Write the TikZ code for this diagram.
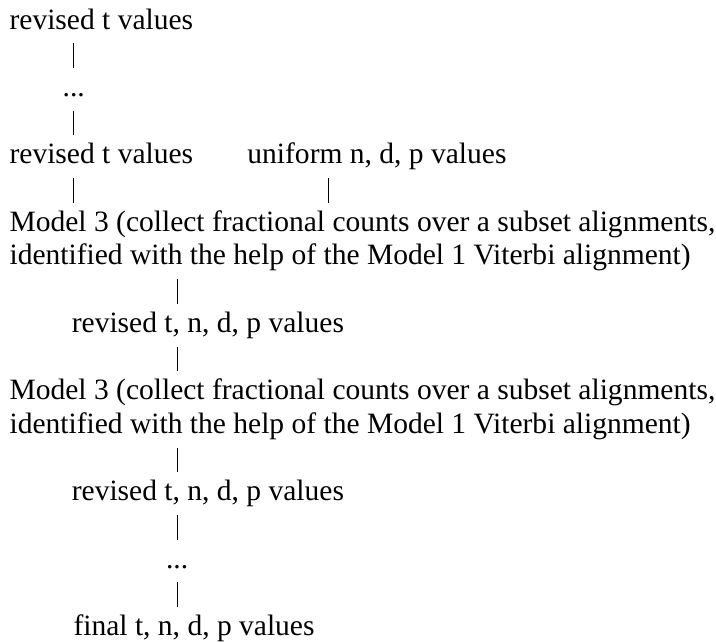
\documentclass[tikz,border=0pt]{standalone}
\usepackage{fontspec}
\setmainfont{Liberation Serif}
\usetikzlibrary{positioning}

\begin{document}
\begin{tikzpicture}[
        x=1pt, y=-13.7pt,
        txt/.style={inner sep=0pt, anchor=base west, text height=8.4pt, text depth=2.6pt, font=\fontsize{12pt}{13.7pt}\selectfont},
        gap/.style={txt, anchor=base},
        bar/.style={line width=0.45pt, shorten <=3pt, shorten >=3pt}
    ]
        \useasboundingbox (0,-0.861) rectangle (291.1,18.19);

        \node[txt] (revA) at (3.7,0) {revised t values};
        \node[gap] (dotsA) at (30,2) {...};
        \node[txt] (revB) at (3.7,4) {revised t values};
        \node[txt] (unif) at (100.4,4) {uniform n, d, p values};
        \coordinate (ubar) at (133.7,0);
        \node[txt] (mthreeA) at (3.7,6) {Model 3 (collect fractional counts over a subset alignments,};
        \node[txt] (mthreeAb) at (3.7,7) {identified with the help of the Model 1 Viterbi alignment)};
        \node[txt] (revC) at (29,9) {revised t, n, d, p values};
        \node[txt] (mthreeB) at (3.7,11) {Model 3 (collect fractional counts over a subset alignments,};
        \node[txt] (mthreeBb) at (3.7,12) {identified with the help of the Model 1 Viterbi alignment)};
        \node[txt] (revD) at (29,14) {revised t, n, d, p values};
        \node[gap] (dotsB) at (72,16) {...};
        \node[txt] (final) at (29.7,18) {final t, n, d, p values};

        \draw[bar] (revA.south -| dotsA) -- (dotsA.north);
        \draw[bar] (dotsA.south) -- (revB.north -| dotsA);
        \draw[bar] (revB.south -| dotsA) -- (mthreeA.north -| dotsA);
        \draw[bar] (unif.south -| ubar) -- (mthreeA.north -| ubar);
        \draw[bar] (mthreeAb.south -| dotsB) -- (revC.north -| dotsB);
        \draw[bar] (revC.south -| dotsB) -- (mthreeB.north -| dotsB);
        \draw[bar] (mthreeBb.south -| dotsB) -- (revD.north -| dotsB);
        \draw[bar] (revD.south -| dotsB) -- (dotsB.north);
        \draw[bar] (dotsB.south) -- (final.north -| dotsB);
    \end{tikzpicture}
\end{document}
